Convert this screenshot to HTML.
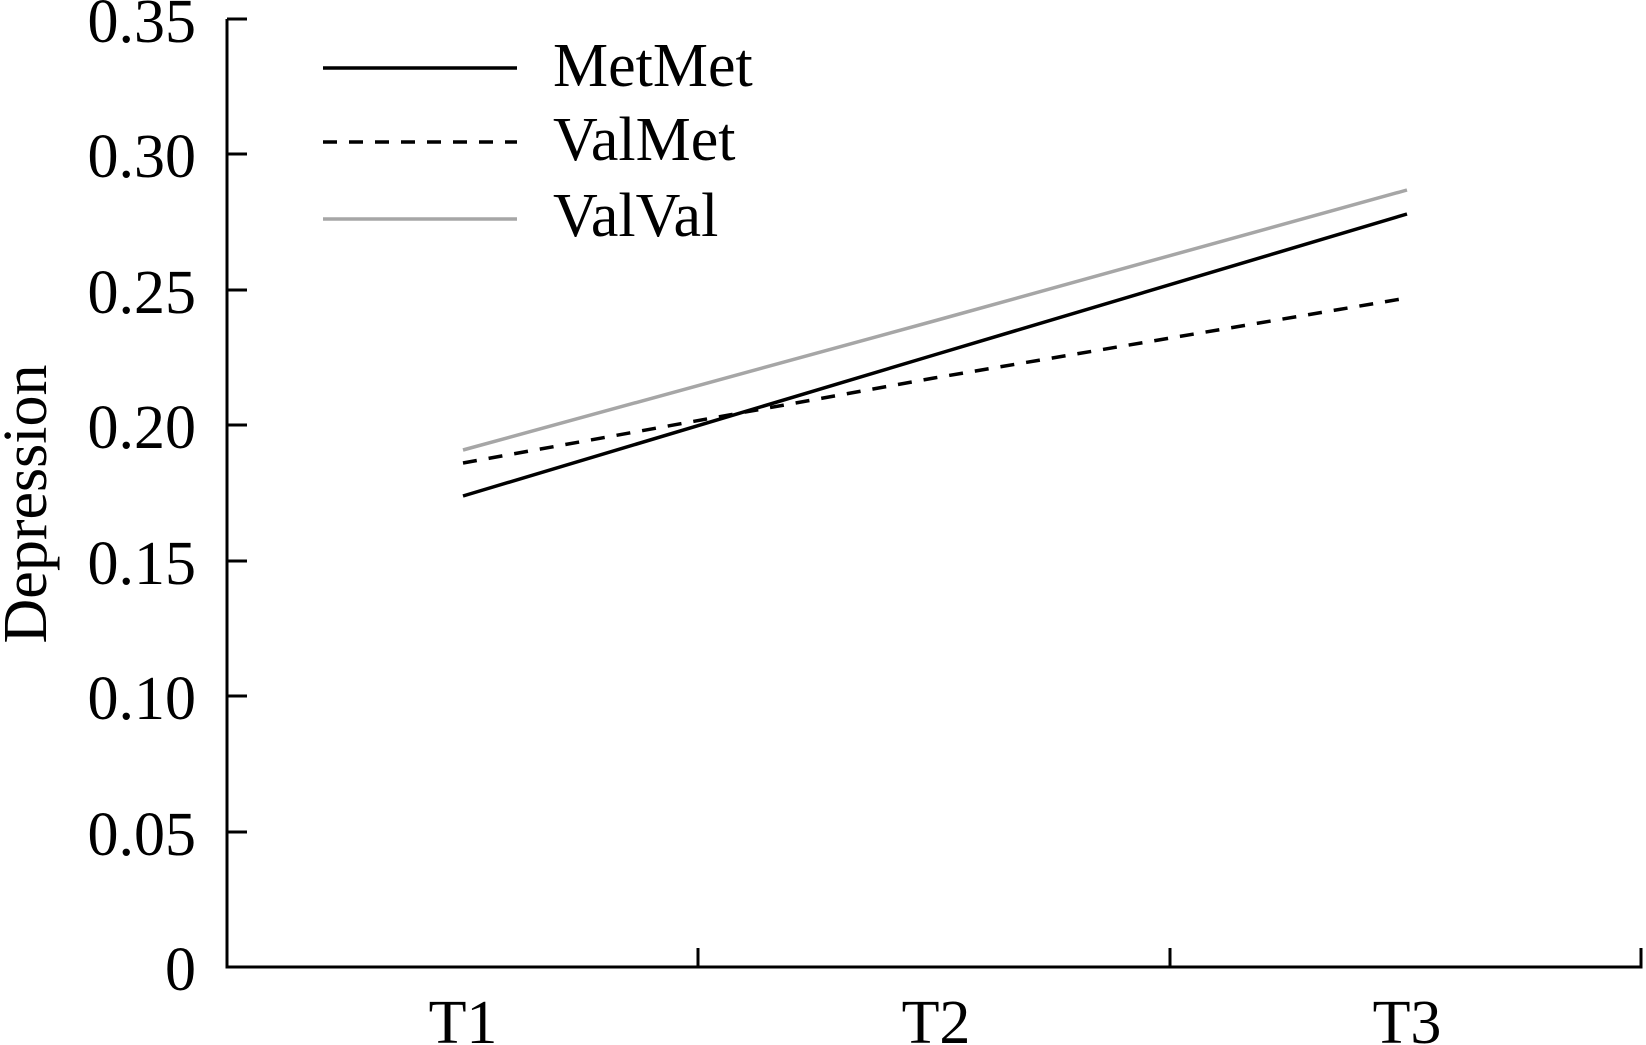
<!DOCTYPE html>
<html><head><style>html,body{margin:0;padding:0;background:#fff;}svg{display:block}</style></head>
<body>
<svg width="1646" height="1045" viewBox="0 0 1646 1045" xmlns="http://www.w3.org/2000/svg" font-family="'Liberation Serif', serif" fill="#000">
<g stroke="#000" stroke-width="3" fill="none">
<path d="M227 19 V967 H1641 V948"/>
<path d="M227 19 H247 M227 154 H247 M227 290 H247 M227 425 H247 M227 561 H247 M227 696 H247 M227 832 H247"/>
<path d="M698 967 V948 M1170 967 V948"/>
</g>
<g font-size="62" text-anchor="end">
<text x="196" y="42">0.35</text>
<text x="196" y="177">0.30</text>
<text x="196" y="313">0.25</text>
<text x="196" y="448">0.20</text>
<text x="196" y="584">0.15</text>
<text x="196" y="719">0.10</text>
<text x="196" y="855">0.05</text>
<text x="196" y="990">0</text>
</g>
<g font-size="62" text-anchor="middle">
<text x="463" y="1043">T1</text>
<text x="936" y="1043">T2</text>
<text x="1407" y="1043">T3</text>
</g>
<text transform="translate(46 504) rotate(-90)" font-size="62" text-anchor="middle">Depression</text>
<g fill="none" stroke-width="3.5">
<polyline stroke="#a6a6a6" points="463,450 934,321 1407,190"/>
<polyline stroke="#000" stroke-dasharray="14,12" points="463,463 934,378 1407,298"/>
<polyline stroke="#000" points="463,496 934,355 1407,214"/>
<line x1="323" y1="68" x2="517" y2="68" stroke="#000"/>
<line x1="323" y1="142" x2="517" y2="142" stroke="#000" stroke-dasharray="14,12"/>
<line x1="323" y1="219" x2="517" y2="219" stroke="#a6a6a6"/>
</g>
<g font-size="62">
<text x="553" y="86">MetMet</text>
<text x="553" y="160">ValMet</text>
<text x="553" y="236">ValVal</text>
</g>
</svg>
</body></html>
